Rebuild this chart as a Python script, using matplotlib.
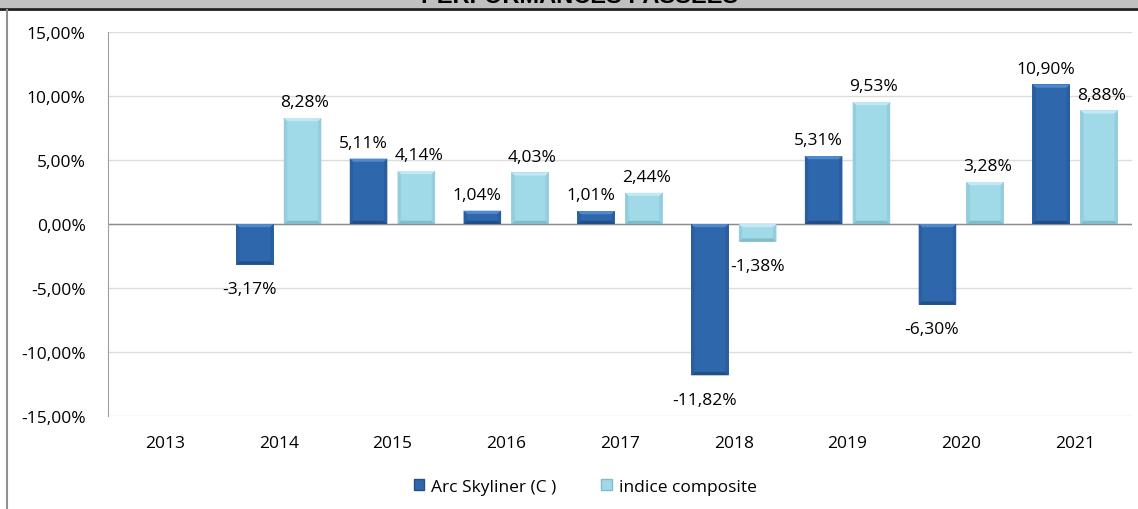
import numpy as np
import matplotlib.pyplot as plt
from matplotlib.patches import Rectangle, Polygon
from matplotlib.lines import Line2D

years = ['2013', '2014', '2015', '2016', '2017', '2018', '2019', '2020', '2021']
fund = [np.nan, -3.17, 5.11, 1.04, 1.01, -11.82, 5.31, -6.30, 10.90]
index = [np.nan, 8.28, 4.14, 4.03, 2.44, -1.38, 9.53, 3.28, 8.88]
yticks = [-15, -10, -5, 0, 5, 10, 15]

# face, top bevel, side bevel, bottom bevel
dark_cols = ['#2f67ad', '#5089cc', '#2a5e9f', '#224f88']
light_cols = ['#a0d9e7', '#c2e9f3', '#94cedd', '#82bccb']


def fmt(v):
    return f'{v:.2f}'.replace('.', ',') + '%'


def bevel(ax, bars, cols, bx=0.03, by=0.25):
    # simple 3d-ish bevel on each bar, like the excel chart
    for b in bars:
        if np.isnan(b.get_height()):
            continue
        x0 = b.get_x()
        x1 = x0 + b.get_width()
        y0 = min(b.get_y(), b.get_y() + b.get_height())
        y1 = max(b.get_y(), b.get_y() + b.get_height())
        dy = min(by, (y1 - y0) / 2.5)
        polys = [
            ([(x0, y1), (x1, y1), (x1 - bx, y1 - dy), (x0 + bx, y1 - dy)], cols[1]),
            ([(x0, y0), (x1, y0), (x1 - bx, y0 + dy), (x0 + bx, y0 + dy)], cols[3]),
            ([(x0, y0), (x0 + bx, y0 + dy), (x0 + bx, y1 - dy), (x0, y1)], cols[2]),
            ([(x1, y0), (x1 - bx, y0 + dy), (x1 - bx, y1 - dy), (x1, y1)], cols[2]),
        ]
        for pts, c in polys:
            ax.add_patch(Polygon(pts, closed=True, fc=c, ec='none', zorder=3))


plt.rcParams['font.family'] = ['Open Sans', 'DejaVu Sans']
fs = 12.5

fig = plt.figure(figsize=(11.38, 5.10), dpi=100)
ax = fig.add_axes([108 / 1138, 93 / 510, 1024 / 1138, 384 / 510])

x = np.arange(len(years))
w = 0.33
off = 0.21

# gridlines
for t in yticks:
    ax.axhline(t, color='#dcdcdc', lw=1, zorder=0)
ax.axhline(0, color='#8c8c8c', lw=1, zorder=1)

b1 = ax.bar(x - off, fund, w, color=dark_cols[0], edgecolor='none', zorder=2)
b2 = ax.bar(x + off, index, w, color=light_cols[0], edgecolor='none', zorder=2)
bevel(ax, b1, dark_cols)
bevel(ax, b2, light_cols)

for xi, v in zip(x, fund):
    if np.isnan(v):
        continue
    if v >= 0:
        ax.text(xi - off - 0.05, v + 0.6, fmt(v), ha='center', va='bottom', fontsize=fs)
    else:
        ax.text(xi - off - 0.05, v - 1.3, fmt(v), ha='center', va='top', fontsize=fs)
for xi, v in zip(x, index):
    if np.isnan(v):
        continue
    if v >= 0:
        ax.text(xi + off + 0.02, v + 0.6, fmt(v), ha='center', va='bottom', fontsize=fs)
    else:
        ax.text(xi + off, v - 1.3, fmt(v), ha='center', va='top', fontsize=fs)

ax.set_xlim(-0.5, len(years) - 0.5)
ax.set_ylim(-15, 15)
ax.set_yticks(yticks)
ax.set_yticklabels([fmt(t) for t in yticks], fontsize=fs)
ax.set_xticks(x)
ax.set_xticklabels(years, fontsize=fs)
ax.tick_params(axis='x', length=0, pad=14)
ax.tick_params(axis='y', length=0, pad=16)
for s in ['top', 'right', 'bottom']:
    ax.spines[s].set_visible(False)
ax.spines['left'].set_color('#a0a0a0')

handles = [Rectangle((0, 0), 1, 1, fc=dark_cols[0], ec=dark_cols[3]),
           Rectangle((0, 0), 1, 1, fc=light_cols[0], ec=light_cols[3])]
fig.legend(handles, ['Arc Skyliner (C )', 'indice composite'], loc='center',
           bbox_to_anchor=(585 / 1138, 1 - 488 / 510), ncol=2, frameon=False,
           fontsize=fs, handlelength=0.6, handleheight=0.6, columnspacing=2.6,
           handletextpad=0.4)

# header band with clipped title
fig.patches.append(Rectangle((0, 1 - 9 / 510), 1, 9 / 510, transform=fig.transFigure,
                             fc='#c0c0c0', ec='none', zorder=0))
fig.add_artist(Line2D([0, 1], [1 - 10 / 510, 1 - 10 / 510], transform=fig.transFigure,
                      color='#202020', lw=2))
fig.text(580 / 1138, 1 - 8 / 510, 'PERFORMANCES PASSEES', ha='center', va='bottom',
         fontsize=17, fontweight='bold', family=['Liberation Sans', 'DejaVu Sans'])
fig.add_artist(Line2D([7 / 1138, 7 / 1138], [0, 1 - 11 / 510], transform=fig.transFigure,
                      color='#909090', lw=1.5))

fig.savefig('out.png', dpi=100)
